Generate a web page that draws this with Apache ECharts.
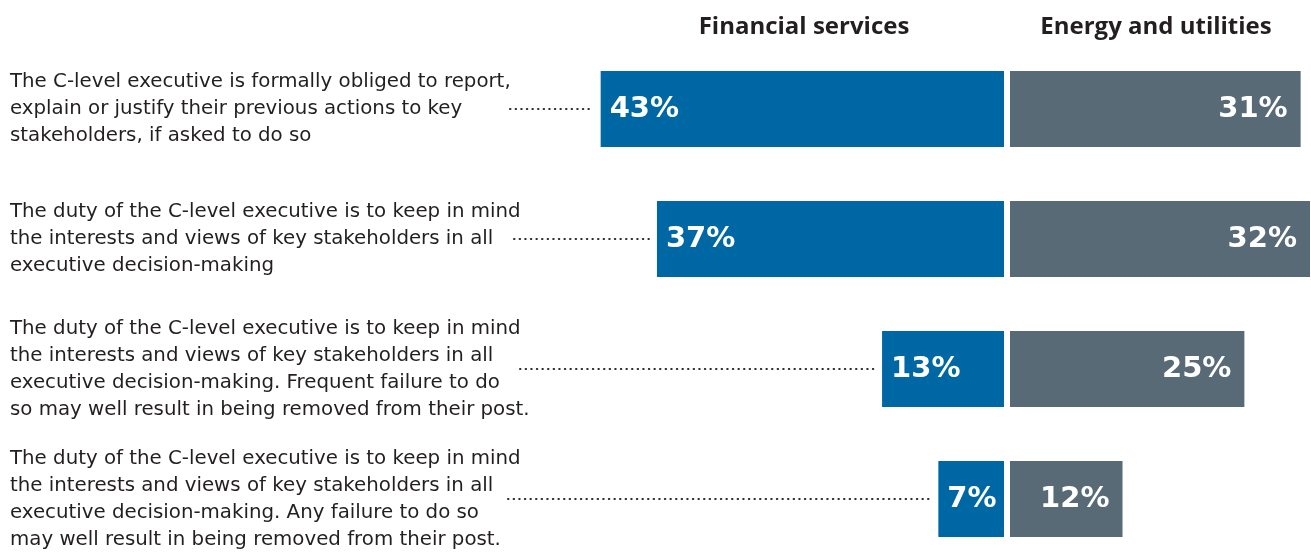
<!DOCTYPE html>
<html>
<head>
<meta charset="utf-8">
<script src="https://cdn.jsdelivr.net/npm/echarts@6/dist/echarts.min.js"></script>
<style>
  html, body { margin: 0; padding: 0; background: #ffffff; }
  #chart { width: 1311px; height: 556px; }
</style>
</head>
<body>
<div id="chart"></div>
<script>
// Statements (one per row), with their printed line breaks
const statements = [
  'The C-level executive is formally obliged to report,\nexplain or justify their previous actions to key\nstakeholders, if asked to do so',
  'The duty of the C-level executive is to keep in mind\nthe interests and views of key stakeholders in all\nexecutive decision-making',
  'The duty of the C-level executive is to keep in mind\nthe interests and views of key stakeholders in all\nexecutive decision-making. Frequent failure to do\nso may well result in being removed from their post.',
  'The duty of the C-level executive is to keep in mind\nthe interests and views of key stakeholders in all\nexecutive decision-making. Any failure to do so\nmay well result in being removed from their post.'
];
const sectorNames = ['Financial services', 'Energy and utilities'];
const financialServices = [43, 37, 13, 7];
const energyUtilities = [31, 32, 25, 12];

// Where each dotted leader begins (px), just after its statement text
const leaderStartPx = [510, 514, 520, 508];

const FONT_HEAD = '"Open Sans", "Noto Sans", sans-serif';
const FONT_TEXT = '"DejaVu Sans", sans-serif';
const FONT_NUM = '"DejaVu Sans", sans-serif';
const BLUE = '#0067a5';
const SLATE = '#576a76';
const INK = '#231f20';

const chart = echarts.init(document.getElementById('chart'), null, { renderer: 'canvas' });

const option = {
  backgroundColor: '#ffffff',
  animation: false,
  grid: [
    { left: 535, width: 469, top: 44, height: 520, outerBoundsMode: 'none', containLabel: false },
    { left: 1010, width: 300, top: 44, height: 520, outerBoundsMode: 'none', containLabel: false }
  ],
  xAxis: [
    { type: 'value', gridIndex: 0, min: 0, max: 50, inverse: true, show: false },
    { type: 'value', gridIndex: 1, min: 0, max: 32, show: false }
  ],
  yAxis: [
    {
      type: 'category', gridIndex: 0, inverse: true, data: statements,
      axisLine: { show: false }, axisTick: { show: false }, splitLine: { show: false },
      axisLabel: {
        margin: 525, align: 'left', color: INK,
        fontFamily: FONT_TEXT, fontSize: 19.8, lineHeight: 27
      }
    },
    {
      type: 'category', gridIndex: 1, inverse: true, data: statements, show: false
    }
  ],
  graphic: [
    {
      type: 'text', x: 804, y: 27,
      style: {
        text: sectorNames[0], fill: INK, align: 'center', verticalAlign: 'middle',
        font: 'bold 24px ' + FONT_HEAD
      }
    },
    {
      type: 'text', x: 1156, y: 27,
      style: {
        text: sectorNames[1], fill: INK, align: 'center', verticalAlign: 'middle',
        font: 'bold 24px ' + FONT_HEAD
      }
    }
  ],
  series: [
    {
      name: sectorNames[0], type: 'bar', xAxisIndex: 0, yAxisIndex: 0,
      data: financialServices, barWidth: 76,
      itemStyle: { color: BLUE },
      label: {
        show: true, position: 'insideLeft', distance: 9, formatter: '{c}%',
        color: '#ffffff', fontFamily: FONT_NUM, fontWeight: 'bold', fontSize: 29
      }
    },
    {
      name: sectorNames[1], type: 'bar', xAxisIndex: 1, yAxisIndex: 1,
      data: energyUtilities, barWidth: 76,
      itemStyle: { color: SLATE },
      label: {
        show: true, position: 'insideRight', distance: 13, formatter: '{c}%',
        color: '#ffffff', fontFamily: FONT_NUM, fontWeight: 'bold', fontSize: 29
      }
    },
    {
      // dotted leaders running from each statement to its bar
      type: 'custom', xAxisIndex: 0, yAxisIndex: 0, silent: true,
      data: financialServices.map((v, i) => [v, i]),
      encode: { x: 0, y: 1 },
      renderItem: function (params, api) {
        const end = api.coord([api.value(0), api.value(1)]);
        return {
          type: 'line',
          shape: { x1: leaderStartPx[params.dataIndex], y1: end[1], x2: end[0] - 7, y2: end[1] },
          style: { stroke: '#2b2b2b', lineWidth: 2, lineDash: [0.5, 5.1], lineCap: 'round' }
        };
      }
    }
  ]
};

chart.setOption(option);
</script>
</body>
</html>
